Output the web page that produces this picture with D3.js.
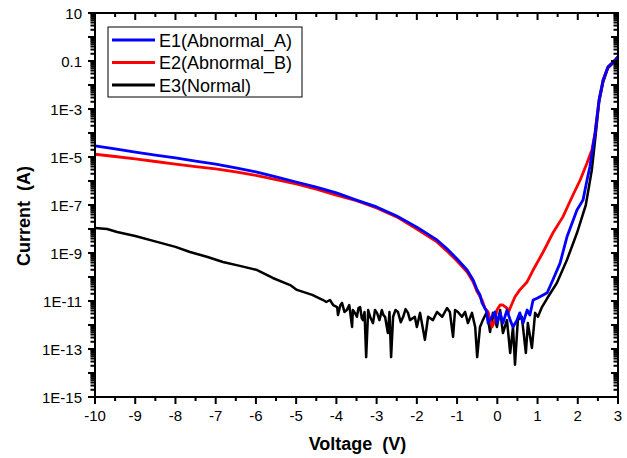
<!DOCTYPE html>
<html>
<head>
<meta charset="utf-8">
<script src="https://cdn.jsdelivr.net/npm/d3@7"></script>
<style>
  body { margin: 0; background: #fff; }
  text { font-family: "Liberation Sans", Arial, sans-serif; }
</style>
</head>
<body>
<div id="chart"></div>
<script>
// data (voltage in V, current in A)
const seriesNames = ["E1(Abnormal_A)", "E2(Abnormal_B)", "E3(Normal)"];
const seriesColors = ["#0000ff", "#ff0000", "#000000"];

const e1Voltage = [-10, -9.5, -9, -8.5, -8, -7.5, -7, -6.5, -6, -5.5, -5, -4.5, -4, -3.5, -3, -2.5, -2, -1.5, -1.25, -1, -0.75, -0.6, -0.5, -0.43, -0.38, -0.26, -0.23, -0.13, -0.06, -0.01, 0.07, 0.14, 0.24, 0.32, 0.39, 0.49, 0.56, 0.64, 0.74, 0.81, 0.89, 0.99, 1.06, 1.24, 1.38, 1.56, 1.73, 1.98, 2.13, 2.23, 2.30, 2.43, 2.53, 2.63, 2.75, 2.93, 3.0];
const e1Current = [2.9e-5, 2.2e-5, 1.6e-5, 1.2e-5, 9.1e-6, 6.8e-6, 5.1e-6, 3.5e-6, 2.4e-6, 1.5e-6, 9.1e-7, 5.6e-7, 3.2e-7, 1.6e-7, 8.3e-8, 3.5e-8, 1.2e-8, 3.5e-9, 1.5e-9, 5.6e-10, 1.95e-10, 7.5e-11, 2.9e-11, 1.8e-11, 8.3e-12, 3.5e-12, 1.2e-12, 2.2e-12, 3.5e-12, 1.2e-12, 3.2e-12, 1.2e-12, 4.2e-12, 1.6e-12, 8.3e-13, 1.6e-12, 3.2e-12, 1.2e-12, 4.2e-12, 2.6e-12, 1.1e-11, 1.3e-11, 1.5e-11, 2.2e-11, 7.5e-11, 3.8e-10, 4.6e-9, 6.2e-8, 1.6e-7, 1.1e-6, 3.8e-6, 1.0e-4, 2.4e-3, 1.6e-2, 5.6e-2, 0.11, 0.15];

const e2Voltage = [-10, -9.5, -9, -8.5, -8, -7.5, -7, -6.5, -6, -5.5, -5, -4.5, -4, -3.5, -3, -2.5, -2, -1.5, -1.25, -1, -0.75, -0.6, -0.5, -0.38, -0.31, -0.23, -0.13, -0.06, -0.01, 0.07, 0.14, 0.24, 0.27, 0.32, 0.44, 0.56, 0.74, 0.89, 1.14, 1.38, 1.63, 1.86, 2.06, 2.23, 2.35, 2.43, 2.53, 2.63, 2.75, 2.93, 3.0];
const e2Current = [1.3e-5, 1.05e-5, 8.3e-6, 6.5e-6, 5.1e-6, 4.0e-6, 3.2e-6, 2.4e-6, 1.7e-6, 1.15e-6, 7.5e-7, 4.6e-7, 2.6e-7, 1.5e-7, 7.5e-8, 3.2e-8, 1.0e-8, 2.9e-9, 1.2e-9, 4.6e-10, 1.6e-10, 6.2e-11, 2.4e-11, 1.1e-11, 5.1e-12, 3.5e-12, 8.3e-13, 1.6e-12, 4.2e-12, 6.8e-12, 6.8e-12, 5.1e-12, 3.2e-12, 5.1e-12, 1.5e-11, 2.9e-11, 6.2e-11, 1.95e-10, 1.1e-9, 6.8e-9, 3.2e-8, 2.2e-7, 1.1e-6, 5.6e-6, 1.95e-5, 1.0e-4, 2.4e-3, 1.6e-2, 5.6e-2, 0.11, 0.15];

const e3Voltage = [-10, -9.7, -9.45, -9.0, -8.46, -8.0, -7.64, -7.2, -6.82, -6.4, -5.97, -5.58, -5.15, -4.98, -4.6, -4.33, -4.25, -4.16, -4.08, -3.98, -3.96, -3.90, -3.86, -3.80, -3.74, -3.68, -3.61, -3.59, -3.54, -3.49, -3.45, -3.41, -3.37, -3.34, -3.30, -3.26, -3.21, -3.15, -3.09, -3.04, -2.99, -2.93, -2.87, -2.83, -2.79, -2.72, -2.68, -2.64, -2.59, -2.53, -2.47, -2.40, -2.34, -2.28, -2.22, -2.17, -2.05, -2.0, -1.92, -1.80, -1.72, -1.60, -1.50, -1.37, -1.25, -1.18, -1.10, -1.05, -0.98, -0.88, -0.80, -0.73, -0.63, -0.55, -0.50, -0.43, -0.36, -0.26, -0.18, -0.11, -0.01, 0.07, 0.14, 0.24, 0.32, 0.39, 0.44, 0.51, 0.61, 0.71, 0.76, 0.86, 0.94, 1.01, 1.11, 1.24, 1.48, 1.73, 1.98, 2.20, 2.35, 2.45, 2.53, 2.63, 2.75, 2.93, 3.0];
const e3Current = [1.1e-8, 1.0e-8, 7.5e-9, 5.1e-9, 2.9e-9, 1.8e-9, 1.1e-9, 6.8e-10, 4.2e-10, 2.9e-10, 1.95e-10, 9.1e-11, 4.6e-11, 2.9e-11, 1.8e-11, 1.1e-11, 9.1e-12, 1.1e-11, 6.8e-12, 5.6e-12, 2.6e-12, 6.8e-12, 8.3e-12, 3.5e-12, 4.2e-12, 6.8e-12, 8.3e-13, 4.2e-12, 3.2e-12, 2.2e-12, 5.1e-12, 5.6e-12, 1.95e-12, 1.6e-12, 3.5e-12, 4.6e-14, 4.2e-12, 1.95e-12, 1.2e-12, 4.2e-12, 3.2e-12, 1.6e-12, 4.2e-12, 2.6e-12, 2.2e-12, 4.6e-13, 3.5e-12, 4.6e-14, 2.2e-12, 4.2e-12, 3.5e-12, 1.3e-12, 2.2e-12, 4.6e-12, 3.2e-12, 1.6e-12, 2.2e-12, 8.3e-13, 3.2e-12, 2.4e-13, 2.2e-12, 1.6e-12, 3.5e-12, 2.2e-12, 5.1e-12, 3.5e-12, 3.2e-13, 4.2e-12, 3.5e-12, 2.2e-12, 3.5e-12, 1.2e-12, 3.2e-12, 8.3e-13, 4.6e-14, 8.3e-13, 1.6e-12, 3.5e-12, 5.1e-13, 3.2e-12, 8.3e-13, 4.2e-12, 4.6e-13, 1.6e-12, 6.8e-14, 8.3e-13, 2.2e-14, 1.6e-12, 2.2e-12, 6.8e-14, 1.2e-12, 1.1e-13, 3.2e-12, 2.2e-12, 5.6e-12, 1.3e-11, 5.6e-11, 5.1e-10, 6.8e-9, 1.0e-7, 2.9e-6, 1.0e-4, 1.9e-3, 1.3e-2, 5.1e-2, 0.1, 0.12];

const xTicks = [-10, -9, -8, -7, -6, -5, -4, -3, -2, -1, 0, 1, 2, 3];
const yLabelTicks = [10, 0.1, 1e-3, 1e-5, 1e-7, 1e-9, 1e-11, 1e-13, 1e-15];
const yLabelText = ["10", "0.1", "1E-3", "1E-5", "1E-7", "1E-9", "1E-11", "1E-13", "1E-15"];

const width = 627, height = 458;
const plotLeft = 95, plotRight = 618, plotTop = 13, plotBottom = 397;

const svg = d3
  .select("#chart")
  .append("svg")
  .attr("width", width)
  .attr("height", height);

const x = d3.scaleLinear().domain([-10, 3]).range([plotLeft, plotRight]);
const y = d3.scaleLog().domain([1e-15, 10]).range([plotBottom, plotTop]);

// tick positions
const xMinor = [];
for (let v = -9.5; v < 3; v += 1) xMinor.push(v);
const yMajor = [];
const yMinor = [];
for (let e = -15; e <= 1; e++) {
  yMajor.push(Math.pow(10, e));
  if (e < 1) for (let m = 2; m <= 9; m++) yMinor.push(m * Math.pow(10, e));
}

// curves, black first so that blue sits on top
const series = [
  { v: e3Voltage, c: e3Current, color: seriesColors[2], w: 2.5 },
  { v: e2Voltage, c: e2Current, color: seriesColors[1], w: 2.8 },
  { v: e1Voltage, c: e1Current, color: seriesColors[0], w: 2.8 },
];

const line = d3
  .line()
  .x((d) => x(d[0]))
  .y((d) => y(d[1]));

const curves = svg.append("g").attr("class", "curves");
series.forEach((s) => {
  curves
    .append("path")
    .datum(d3.zip(s.v, s.c))
    .attr("fill", "none")
    .attr("stroke", s.color)
    .attr("stroke-width", s.w)
    .attr("stroke-linejoin", "round")
    .attr("d", line);
});

// tick labels
svg.append("g")
  .selectAll("text")
  .data(xTicks)
  .join("text")
  .attr("x", (d) => x(d))
  .attr("y", 421)
  .attr("text-anchor", "middle")
  .attr("font-size", 15)
  .text((d) => String(d));

svg.append("g")
  .selectAll("text")
  .data(yLabelTicks)
  .join("text")
  .attr("x", plotLeft - 13)
  .attr("y", (d) => y(d) + 5.5)
  .attr("text-anchor", "end")
  .attr("font-size", 15)
  .text((d, i) => yLabelText[i]);

// frame
svg.append("rect")
  .attr("x", plotLeft)
  .attr("y", plotTop)
  .attr("width", plotRight - plotLeft)
  .attr("height", plotBottom - plotTop)
  .attr("fill", "none")
  .attr("stroke", "#000")
  .attr("stroke-width", 2);

// ticks as rectangles, positions from the scales
const tickW = 2;
const tickG = svg.append("g").attr("class", "ticks").attr("fill", "#000");

function vTicks(values, y0, len) {
  tickG.append("g")
    .selectAll("rect")
    .data(values)
    .join("rect")
    .attr("x", (d) => x(d) - tickW / 2)
    .attr("y", len > 0 ? y0 : y0 + len)
    .attr("width", tickW)
    .attr("height", Math.abs(len));
}
function hTicks(values, x0, len) {
  tickG.append("g")
    .selectAll("rect")
    .data(values)
    .join("rect")
    .attr("x", len > 0 ? x0 : x0 + len)
    .attr("y", (d) => y(d) - tickW / 2)
    .attr("width", Math.abs(len))
    .attr("height", tickW);
}

vTicks(xTicks, plotBottom, 7);
vTicks(xMinor, plotBottom, 4);
vTicks(xTicks, plotTop, 7);
vTicks(xMinor, plotTop, 4);
hTicks(yMajor, plotLeft, -7);
hTicks(yMinor, plotLeft, -4.5);
hTicks(yMajor, plotRight, -7);
hTicks(yMinor, plotRight, -4.5);

// titles
svg.append("text")
  .attr("x", (plotLeft + plotRight) / 2 + 1)
  .attr("y", 450)
  .attr("text-anchor", "middle")
  .attr("font-size", 18)
  .attr("font-weight", "bold")
  .style("white-space", "pre")
  .text("Voltage  (V)");

svg.append("text")
  .attr("transform", "translate(30,216) rotate(-90)")
  .attr("text-anchor", "middle")
  .attr("font-size", 18)
  .attr("font-weight", "bold")
  .style("white-space", "pre")
  .text("Current  (A)");

// legend
const legend = svg.append("g").attr("class", "legend");
legend.append("rect")
  .attr("x", 108)
  .attr("y", 27)
  .attr("width", 194)
  .attr("height", 70)
  .attr("fill", "#fff")
  .attr("stroke", "#000")
  .attr("stroke-width", 1);

seriesNames.forEach((name, i) => {
  const ly = 40 + i * 22.5;
  legend.append("line")
    .attr("x1", 112)
    .attr("x2", 155)
    .attr("y1", ly)
    .attr("y2", ly)
    .attr("stroke", seriesColors[i])
    .attr("stroke-width", 3);
  legend.append("text")
    .attr("x", 159)
    .attr("y", ly + 6.5)
    .attr("font-size", 18)
    .text(name);
});
</script>
</body>
</html>
